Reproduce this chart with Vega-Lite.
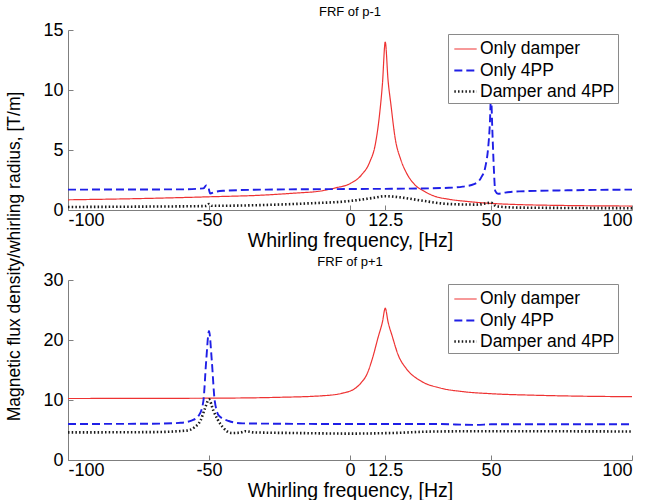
{
  "$schema": "https://vega.github.io/schema/vega-lite/v6.json",
  "background": "white",
  "padding": {"left": 5, "top": 6, "right": 5, "bottom": 0},
  "config": {
    "font": "Liberation Sans",
    "view": {"stroke": null},
    "axis": {
      "domainColor": "#7f7f7f",
      "tickColor": "#7f7f7f",
      "labelColor": "#000000",
      "labelFontSize": 18,
      "labelFont": "Liberation Sans",
      "titleFont": "Liberation Sans",
      "titleFontSize": 19.5,
      "titleFontWeight": "normal",
      "titleColor": "#000000",
      "grid": false,
      "tickSize": -5
    },
    "axisX": {"labelPadding": 6, "titlePadding": 2},
    "axisY": {"labelPadding": 10},
    "legend": {
      "labelFontSize": 17.5,
      "labelFont": "Liberation Sans",
      "labelColor": "#000000",
      "strokeColor": "#8a8a8a",
      "fillColor": "white",
      "padding": 3,
      "rowPadding": 0,
      "symbolType": "stroke",
      "symbolSize": 500,
      "symbolOffset": 2,
      "labelOffset": 2,
      "title": null
    },
    "title": {"fontSize": 13, "fontWeight": "normal", "font": "Liberation Sans", "color": "#000000", "offset": 2}
  },
  "datasets": {
    "pm1": [
      {"f": -100, "v": 0.85, "s": "Only damper"},
      {"f": -75, "v": 0.95, "s": "Only damper"},
      {"f": -50, "v": 1.1, "s": "Only damper"},
      {"f": -30, "v": 1.25, "s": "Only damper"},
      {"f": -20, "v": 1.4, "s": "Only damper"},
      {"f": -10, "v": 1.6, "s": "Only damper"},
      {"f": -5, "v": 1.85, "s": "Only damper"},
      {"f": 0, "v": 2.2, "s": "Only damper"},
      {"f": 4, "v": 2.9, "s": "Only damper"},
      {"f": 7, "v": 4.0, "s": "Only damper"},
      {"f": 9, "v": 5.5, "s": "Only damper"},
      {"f": 10.5, "v": 8.0, "s": "Only damper"},
      {"f": 11.5, "v": 10.5, "s": "Only damper"},
      {"f": 12.5, "v": 14.0, "s": "Only damper"},
      {"f": 13.5, "v": 10.8, "s": "Only damper"},
      {"f": 14.5, "v": 8.8, "s": "Only damper"},
      {"f": 16, "v": 6.0, "s": "Only damper"},
      {"f": 18, "v": 4.2, "s": "Only damper"},
      {"f": 20, "v": 3.1, "s": "Only damper"},
      {"f": 23, "v": 2.1, "s": "Only damper"},
      {"f": 26, "v": 1.6, "s": "Only damper"},
      {"f": 30, "v": 1.15, "s": "Only damper"},
      {"f": 35, "v": 0.9, "s": "Only damper"},
      {"f": 42, "v": 0.7, "s": "Only damper"},
      {"f": 50, "v": 0.55, "s": "Only damper"},
      {"f": 60, "v": 0.45, "s": "Only damper"},
      {"f": 75, "v": 0.38, "s": "Only damper"},
      {"f": 100, "v": 0.33, "s": "Only damper"},
      {"f": -100, "v": 1.7, "s": "Only 4PP"},
      {"f": -60, "v": 1.72, "s": "Only 4PP"},
      {"f": -52, "v": 1.8, "s": "Only 4PP"},
      {"f": -51, "v": 2.05, "s": "Only 4PP"},
      {"f": -50.3, "v": 1.95, "s": "Only 4PP"},
      {"f": -49.6, "v": 1.38, "s": "Only 4PP"},
      {"f": -48, "v": 1.5, "s": "Only 4PP"},
      {"f": -45, "v": 1.6, "s": "Only 4PP"},
      {"f": -30, "v": 1.7, "s": "Only 4PP"},
      {"f": 0, "v": 1.75, "s": "Only 4PP"},
      {"f": 20, "v": 1.78, "s": "Only 4PP"},
      {"f": 35, "v": 1.85, "s": "Only 4PP"},
      {"f": 40, "v": 1.95, "s": "Only 4PP"},
      {"f": 44, "v": 2.15, "s": "Only 4PP"},
      {"f": 46.5, "v": 2.7, "s": "Only 4PP"},
      {"f": 48, "v": 3.6, "s": "Only 4PP"},
      {"f": 49, "v": 5.2, "s": "Only 4PP"},
      {"f": 49.6, "v": 7.2, "s": "Only 4PP"},
      {"f": 50, "v": 9.5, "s": "Only 4PP"},
      {"f": 50.5, "v": 6.5, "s": "Only 4PP"},
      {"f": 51, "v": 3.5, "s": "Only 4PP"},
      {"f": 51.5, "v": 1.6, "s": "Only 4PP"},
      {"f": 52.5, "v": 1.35, "s": "Only 4PP"},
      {"f": 55, "v": 1.45, "s": "Only 4PP"},
      {"f": 60, "v": 1.55, "s": "Only 4PP"},
      {"f": 80, "v": 1.65, "s": "Only 4PP"},
      {"f": 100, "v": 1.7, "s": "Only 4PP"},
      {"f": -100, "v": 0.25, "s": "Damper and 4PP"},
      {"f": -75, "v": 0.28, "s": "Damper and 4PP"},
      {"f": -51, "v": 0.33, "s": "Damper and 4PP"},
      {"f": -50, "v": 0.5, "s": "Damper and 4PP"},
      {"f": -49, "v": 0.35, "s": "Damper and 4PP"},
      {"f": -30, "v": 0.42, "s": "Damper and 4PP"},
      {"f": -15, "v": 0.55, "s": "Damper and 4PP"},
      {"f": 0, "v": 0.75, "s": "Damper and 4PP"},
      {"f": 8, "v": 1.0, "s": "Damper and 4PP"},
      {"f": 12.5, "v": 1.15, "s": "Damper and 4PP"},
      {"f": 18, "v": 1.05, "s": "Damper and 4PP"},
      {"f": 25, "v": 0.8, "s": "Damper and 4PP"},
      {"f": 35, "v": 0.5, "s": "Damper and 4PP"},
      {"f": 45, "v": 0.45, "s": "Damper and 4PP"},
      {"f": 50, "v": 0.6, "s": "Damper and 4PP"},
      {"f": 52, "v": 0.3, "s": "Damper and 4PP"},
      {"f": 60, "v": 0.2, "s": "Damper and 4PP"},
      {"f": 100, "v": 0.15, "s": "Damper and 4PP"}
    ],
    "pp1": [
      {"f": -100, "v": 10.25, "s": "Only damper"},
      {"f": -50, "v": 10.3, "s": "Only damper"},
      {"f": -25, "v": 10.45, "s": "Only damper"},
      {"f": -10, "v": 10.7, "s": "Only damper"},
      {"f": -3, "v": 11.1, "s": "Only damper"},
      {"f": 2, "v": 12.0, "s": "Only damper"},
      {"f": 4, "v": 12.9, "s": "Only damper"},
      {"f": 6, "v": 14.3, "s": "Only damper"},
      {"f": 8, "v": 17.0, "s": "Only damper"},
      {"f": 10, "v": 20.5, "s": "Only damper"},
      {"f": 11.5, "v": 23.0, "s": "Only damper"},
      {"f": 12.5, "v": 25.3, "s": "Only damper"},
      {"f": 13.5, "v": 23.0, "s": "Only damper"},
      {"f": 15, "v": 20.6, "s": "Only damper"},
      {"f": 17, "v": 17.6, "s": "Only damper"},
      {"f": 20, "v": 15.2, "s": "Only damper"},
      {"f": 25, "v": 13.2, "s": "Only damper"},
      {"f": 32, "v": 12.0, "s": "Only damper"},
      {"f": 40, "v": 11.4, "s": "Only damper"},
      {"f": 50, "v": 11.05, "s": "Only damper"},
      {"f": 65, "v": 10.8, "s": "Only damper"},
      {"f": 80, "v": 10.65, "s": "Only damper"},
      {"f": 100, "v": 10.55, "s": "Only damper"},
      {"f": -100, "v": 6.0, "s": "Only 4PP"},
      {"f": -70, "v": 6.05, "s": "Only 4PP"},
      {"f": -60, "v": 6.2, "s": "Only 4PP"},
      {"f": -56, "v": 6.6, "s": "Only 4PP"},
      {"f": -53.5, "v": 7.5, "s": "Only 4PP"},
      {"f": -52, "v": 9.8, "s": "Only 4PP"},
      {"f": -51, "v": 16.5, "s": "Only 4PP"},
      {"f": -50, "v": 21.5, "s": "Only 4PP"},
      {"f": -49, "v": 16.5, "s": "Only 4PP"},
      {"f": -48, "v": 10.0, "s": "Only 4PP"},
      {"f": -46.5, "v": 7.4, "s": "Only 4PP"},
      {"f": -43, "v": 6.5, "s": "Only 4PP"},
      {"f": -38, "v": 6.1, "s": "Only 4PP"},
      {"f": 0, "v": 6.0, "s": "Only 4PP"},
      {"f": 30, "v": 6.0, "s": "Only 4PP"},
      {"f": 45, "v": 5.85, "s": "Only 4PP"},
      {"f": 50, "v": 5.95, "s": "Only 4PP"},
      {"f": 100, "v": 5.95, "s": "Only 4PP"},
      {"f": -100, "v": 4.6, "s": "Damper and 4PP"},
      {"f": -70, "v": 4.65, "s": "Damper and 4PP"},
      {"f": -58, "v": 4.9, "s": "Damper and 4PP"},
      {"f": -55, "v": 5.5, "s": "Damper and 4PP"},
      {"f": -53, "v": 6.6, "s": "Damper and 4PP"},
      {"f": -51.5, "v": 8.5, "s": "Damper and 4PP"},
      {"f": -50, "v": 10.1, "s": "Damper and 4PP"},
      {"f": -48.5, "v": 8.3, "s": "Damper and 4PP"},
      {"f": -47, "v": 6.8, "s": "Damper and 4PP"},
      {"f": -45, "v": 5.4, "s": "Damper and 4PP"},
      {"f": -42, "v": 4.5, "s": "Damper and 4PP"},
      {"f": -39, "v": 4.55, "s": "Damper and 4PP"},
      {"f": -37, "v": 4.8, "s": "Damper and 4PP"},
      {"f": -34, "v": 4.6, "s": "Damper and 4PP"},
      {"f": -20, "v": 4.5, "s": "Damper and 4PP"},
      {"f": 0, "v": 4.4, "s": "Damper and 4PP"},
      {"f": 15, "v": 4.5, "s": "Damper and 4PP"},
      {"f": 30, "v": 4.75, "s": "Damper and 4PP"},
      {"f": 50, "v": 4.8, "s": "Damper and 4PP"},
      {"f": 100, "v": 4.75, "s": "Damper and 4PP"}
    ]
  },
  "vconcat": [
    {
      "width": 564,
      "height": 180,
      "title": {"text": "FRF of p-1"},
      "data": {"name": "pm1"},
      "mark": {"type": "line", "interpolate": "monotone"},
      "encoding": {
        "x": {"field": "f", "type": "quantitative", "scale": {"domain": [-100, 100], "nice": false},
              "axis": {"values": [-100, -50, 0, 12.5, 50, 100], "labelExpr": "(datum.value < 0 ? '-' : '') + format(abs(datum.value), '~g')", "title": "Whirling frequency, [Hz]"}},
        "y": {"field": "v", "type": "quantitative", "scale": {"domain": [0, 15], "nice": false},
              "axis": {"values": [0, 5, 10, 15], "title": "Magnetic flux density/whirling radius, [T/m]", "titleFontSize": 17.5, "titleX": -54, "titleY": 226, "titleAnchor": "middle", "titleAlign": "center", "titleBaseline": "middle"}},
        "color": {"field": "s", "type": "nominal", "sort": null,
                  "scale": {"domain": ["Only damper", "Only 4PP", "Damper and 4PP"], "range": ["#ee3333", "#1f1fe6", "#1a1a1a"]},
                  "legend": {"orient": "none", "legendX": 380, "legendY": 4}},
        "strokeDash": {"field": "s", "type": "nominal", "sort": null,
                  "scale": {"domain": ["Only damper", "Only 4PP", "Damper and 4PP"], "range": [[1, 0], [8, 4], [1.5, 2.2]]},
                  "legend": {"orient": "none", "legendX": 380, "legendY": 4}},
        "strokeWidth": {"field": "s", "type": "nominal", "sort": null,
                  "scale": {"domain": ["Only damper", "Only 4PP", "Damper and 4PP"], "range": [1.2, 2.6, 1.6]},
                  "legend": {"orient": "none", "legendX": 380, "legendY": 4}}
      }
    },
    {
      "width": 564,
      "height": 180,
      "title": {"text": "FRF of p+1"},
      "data": {"name": "pp1"},
      "mark": {"type": "line", "interpolate": "monotone"},
      "encoding": {
        "x": {"field": "f", "type": "quantitative", "scale": {"domain": [-100, 100], "nice": false},
              "axis": {"values": [-100, -50, 0, 12.5, 50, 100], "labelExpr": "(datum.value < 0 ? '-' : '') + format(abs(datum.value), '~g')", "title": "Whirling frequency, [Hz]"}},
        "y": {"field": "v", "type": "quantitative", "scale": {"domain": [0, 30], "nice": false},
              "axis": {"values": [0, 10, 20, 30], "title": null}},
        "color": {"field": "s", "type": "nominal", "sort": null,
                  "scale": {"domain": ["Only damper", "Only 4PP", "Damper and 4PP"], "range": ["#ee3333", "#1f1fe6", "#1a1a1a"]},
                  "legend": {"orient": "none", "legendX": 380, "legendY": 4}},
        "strokeDash": {"field": "s", "type": "nominal", "sort": null,
                  "scale": {"domain": ["Only damper", "Only 4PP", "Damper and 4PP"], "range": [[1, 0], [8, 4], [1.5, 2.2]]},
                  "legend": {"orient": "none", "legendX": 380, "legendY": 4}},
        "strokeWidth": {"field": "s", "type": "nominal", "sort": null,
                  "scale": {"domain": ["Only damper", "Only 4PP", "Damper and 4PP"], "range": [1.2, 2.6, 1.6]},
                  "legend": {"orient": "none", "legendX": 380, "legendY": 4}}
      }
    }
  ],
  "bounds": "flush",
  "spacing": 70,
  "resolve": {"legend": {"color": "independent", "strokeDash": "independent", "strokeWidth": "independent"}}
}
